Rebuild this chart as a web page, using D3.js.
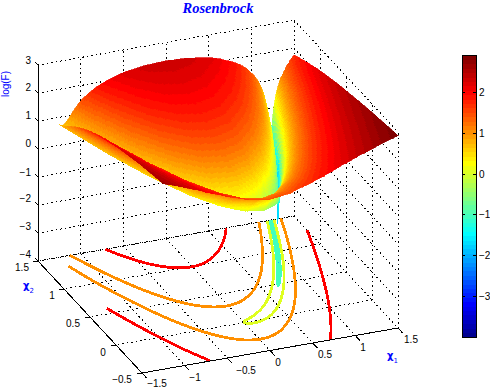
<!DOCTYPE html>
<html>
<head>
<meta charset="utf-8">
<style>
html,body{margin:0;padding:0;background:#fff;}
svg{display:block;}
text{font-family:"Liberation Sans",Arial,sans-serif;font-size:10px;fill:#000;}
</style>
<script src="https://cdnjs.cloudflare.com/ajax/libs/d3/7.8.5/d3.min.js"></script>
</head>
<body>
<svg id="c" width="490" height="389"></svg>
<script>
// ---- data: log(F) read on a table of x1 columns and distance-from-valley rows
const x1Cols = [-1.25,-1,-.75,-.5,-.25,0,.25,.5,.625,.75,.875,.95,1,1.05,1.125,1.25,1.5];
const valleyX2 = [1.5625,1,.5625,.25,.0625,0,.0625,.25,.390625,.5625,.765625,.9025,1,1.1025,1.265625,1.5625,2.25];
const distRows = [0,.01,.02,.04,.07,.1,.15,.2,.3,.4,.6,.8,1.2,1.6,2.2,2.8];
const colA = [.704,.705,.708,.718,.745,.783,.864,.957,1.148,1.323,1.613,1.839,2.173,2.417,2.689,2.897];
const colB = [.602,.603,.606,.619,.652,.699,.796,.903,1.114,1.301,1.602,1.833,2.170,2.415,2.688,2.897];
const colC = [.486,.487,.492,.508,.551,.609,.725,.849,1.081,1.280,1.592,1.826,2.167,2.413,2.688,2.896];
const colD = [.352,.354,.360,.382,.438,.512,.653,.796,1.051,1.261,1.583,1.821,2.165,2.412,2.687,2.896];
const colE = [.194,.197,.205,.236,.312,.409,.581,.745,1.024,1.245,1.575,1.817,2.163,2.411,2.686,2.895];
const colF = [0,.004,.017,.064,.173,.301,.512,.699,1,1.230,1.568,1.813,2.161,2.410,2.686,2.895];
const colG = [-.250,-.242,-.220,-.141,.022,.194,.449,.659,.981,1.219,1.563,1.810,2.160,2.409,2.685,2.895];
const colH = [-.602,-.585,-.538,-.387,-.131,.097,.398,.628,.966,1.211,1.559,1.808,2.159,2.409,2.685,2.894];
const colI = [-.852,-.822,-.743,-.522,-.200,.057,.378,.617,.961,1.208,1.558,1.807,2.159,2.408,2.685,2.894];
const colJ = [-1.204,-1.140,-.989,-.653,-.258,.026,.364,.609,.957,1.206,1.557,1.807,2.159,2.408,2.685,2.894];
const colK = [-1.806,-1.592,-1.255,-.755,-.296,.007,.355,.604,.955,1.205,1.557,1.806,2.158,2.408,2.685,2.894];
const colL = [-2.602,-1.903,-1.372,-.789,-.308,.001,.353,.602,.954,1.204,1.556,1.806,2.158,2.408,2.685,2.894];
const colM = [-4,-2,-1.398,-.796,-.310,0,.352,.602,.954,1.204,1.556,1.806,2.158,2.408,2.685,2.894];
const logF = [colA,colB,colC,colD,colE,colF,colG,colH,colI,colJ,colK,colL,colM,colL,colK,colJ,colH];

// contour lines on the floor, [x1,x2] pairs by level
const red1 = [[-.71,1.5],[-.6,1.347],[-.4,1.15],[-.2,1.033],[0,.995],[.2,1.037],[.4,1.158],[.6,1.359],[.705,1.5]];
const red2 = [[-1.25,.588],[-1.15,.346],[-1.05,.124],[-.95,-.078],[-.85,-.26],[-.75,-.42],[-.7,-.495]];
const red3 = [[.707,-.5],[.8,-.36],[.9,-.19],[1,0],[1.1,.21],[1.2,.44],[1.3,.69],[1.4,.96],[1.5,1.25]];
const orange1 = [[-1.125,1.5],[-1,1.245],[-.9,1.063],[-.75,.826],[-.6,.633],[-.4,.444],[-.2,.333],[0,.3],[.2,.346],[.4,.47],[.6,.674],[.8,.956],[1,1.316],[1.088,1.5]];
const orange2 = [[-1.24,1.34],[-1.15,1.09],[-1,.755],[-.85,.466],[-.7,.223],[-.5,-.028],[-.3,-.198],[-.1,-.286],[.1,-.293],[.3,-.219],[.5,-.062],[.7,.175],[.9,.494],[1.1,.894],[1.25,1.247],[1.345,1.5]];
const lime1 = [[1.185,1.5],[1.05,1.2025],[.9,.91],[.7,.585],[.5,.337],[.35,.198],[.2,.1],[.1,.054],[.02,.02],[0,0],[.02,-.0195],[.1,-.034],[.2,-.02],[.35,.046],[.5,.163],[.7,.395],[.9,.71],[1.05,1.0025],[1.2,1.342],[1.264,1.5]];
const aqua1 = [[1.215,1.5],[1.1,1.24],[1,1.0316],[.85,.75],[.75,.582],[.7,.5],[.684,.468],[.7,.48],[.75,.543],[.85,.695],[1,.968],[1.1,1.18],[1.233,1.5]];
const sky1 = [[.9,.81],[.95,.911],[1,1.01],[1.05,1.111],[1.1,1.21],[1.05,1.094],[1,.99],[.95,.894],[.9,.81]];
const blue1 = [[.968,.937],[1,1.003],[1.032,1.065],[1,.997],[.968,.937]];
const contourLevels = [-3,-2,-1,0,1,1,2,2,2];
const contourLines = [blue1,sky1,aqua1,lime1,orange1,orange2,red1,red2,red3];

// ticks and labels
const zTicks = [-4,-3,-2,-1,0,1,2,3];
const x1Ticks = [-1.5,-1,-.5,0,.5,1,1.5];
const x2Ticks = [-.5,0,.5,1,1.5];
const cbTicks = [-3,-2,-1,0,1,2];
const x1Labels = [[157,383.5],[195,377],[246,370],[278,362],[325,354],[363,347],[411,339]];
const x2Labels = [[22,267],[52,295],[73,323],[103,352],[122,379]];
const zLabelY = [254,226,198,172,143,115,87,60];
const titleText = "Rosenbrock";
const zName = "log(F)";

// ---- projection through scales
const ox = 142, oy = 373;
const x1px = d3.scaleLinear([-1.5,1.5],[0,256]);
const x1py = d3.scaleLinear([-1.5,1.5],[0,-45]);
const x2px = d3.scaleLinear([-.5,1.5],[0,-104]);
const x2py = d3.scaleLinear([-.5,1.5],[0,-112]);
const zpy  = d3.scaleLinear([-4,3],[0,-196]);
const P = (a,b,z) => [ox+x1px(a)+x2px(b), oy+x1py(a)+x2py(b)+zpy(z)];

// jet colour map, 64 bands, over the colour limits
const zMin=-4, zMax=2.9;
const jet = d3.scaleLinear([0,.125,.375,.625,.875,1],["rgb(0,0,128)","rgb(0,0,255)","rgb(0,255,255)","rgb(255,255,0)","rgb(255,0,0)","rgb(128,0,0)"]).clamp(true);
const bands = d3.range(64).map(i=>d3.color(jet((i+1)/64)).formatHex());
const color = d3.scaleQuantize([zMin,zMax],bands);

const svg = d3.select("#c");
const line3 = (pts,z) => "M"+pts.map(p=>P(p[0],p[1],z).join(",")).join("L");

// ---- walls and floor grid
const grid = svg.append("g").attr("fill","none").attr("stroke","#000").attr("stroke-dasharray","1.5 3").attr("shape-rendering","crispEdges");
const seg=[];
zTicks.forEach(z=>{ seg.push([[-1.5,1.5,z],[1.5,1.5,z]]); seg.push([[1.5,1.5,z],[1.5,-.5,z]]); });
x1Ticks.forEach(a=>{ seg.push([[a,1.5,-4],[a,1.5,3]]); seg.push([[a,1.5,-4],[a,-.5,-4]]); });
x2Ticks.forEach(b=>{ seg.push([[1.5,b,-4],[1.5,b,3]]); seg.push([[1.5,b,-4],[-1.5,b,-4]]); });
grid.selectAll("path").data(seg).join("path").attr("d",s=>"M"+P(...s[0]).join(",")+"L"+P(...s[1]).join(","));

// ---- contours on the floor
const lineGen = d3.line(p=>P(p[0],p[1],-4)[0],p=>P(p[0],p[1],-4)[1]).curve(d3.curveCatmullRom.alpha(.5));
svg.append("g").attr("fill","none").attr("stroke-width",2.8).attr("stroke-linejoin","round").attr("shape-rendering","crispEdges")
  .selectAll("path").data(contourLines).join("path")
  .attr("d",d=>lineGen(d)).attr("stroke",(d,i)=>color(contourLevels[i]));

// ---- surface, painted from the far corner toward the viewer
function lookup(a,b){
  let i=Math.min(Math.max(d3.bisectRight(x1Cols,a)-1,0),x1Cols.length-2);
  const t=(a-x1Cols[i])/(x1Cols[i+1]-x1Cols[i]);
  const v=valleyX2[i]*(1-t)+valleyX2[i+1]*t;
  const d=Math.abs(b-v);
  let j=Math.min(Math.max(d3.bisectRight(distRows,d)-1,0),distRows.length-2);
  const u=(d-distRows[j])/(distRows[j+1]-distRows[j]);
  const A=logF[i],B=logF[i+1];
  return (A[j]*(1-u)+A[j+1]*u)*(1-t)+(B[j]*(1-u)+B[j+1]*u)*t;
}
const mesh1=d3.range(171).map(k=>1.5-k*2.75/170);
const mesh2=d3.range(131).map(k=>1.5-k*2/130);
const cells=[];
for(let i=0;i<mesh1.length-1;i++){
  for(let j=0;j<mesh2.length-1;j++){
    const a0=mesh1[i],a1=mesh1[i+1],b0=mesh2[j],b1=mesh2[j+1];
    const z00=lookup(a0,b0),z01=lookup(a0,b1),z10=lookup(a1,b0),z11=lookup(a1,b1);
    const c=color((z00+z01+z10+z11)/4);
    const f=p=>p[0].toFixed(1)+","+p[1].toFixed(1);
    cells.push({c,d:"M"+f(P(a0,b0,z00))+"L"+f(P(a0,b1,z01))+"L"+f(P(a1,b1,z11))+"L"+f(P(a1,b0,z10))+"Z"});
  }
}
svg.append("g").attr("shape-rendering","crispEdges").attr("stroke-width",.7)
  .selectAll("path").data(cells).join("path")
  .attr("d",d=>d.d).attr("fill",d=>d.c).attr("stroke",d=>d.c);

// ---- axes
const axes=svg.append("g").attr("stroke","#000").attr("fill","none").attr("shape-rendering","crispEdges");
axes.append("path").attr("d",line3([[-1.5,-.5],[1.5,-.5]],-4));
axes.append("path").attr("d",line3([[-1.5,-.5],[-1.5,1.5]],-4));
axes.append("path").attr("d","M"+P(-1.5,1.5,-4).join(",")+"L"+P(-1.5,1.5,3).join(","));
x1Ticks.forEach(a=>axes.append("path").attr("d",line3([[a,-.5],[a,-.59]],-4)));
x2Ticks.forEach(b=>axes.append("path").attr("d",line3([[-1.5,b],[-1.56,b]],-4)));
zTicks.forEach(z=>axes.append("path").attr("d","M"+P(-1.5,1.5,z).join(",")+"L"+P(-1.5,1.56,z).join(",")));

const fmt=v=>String(v).replace("-","\u2212");
const lab=svg.append("g");
zTicks.forEach((z,i)=>lab.append("text").attr("x",31).attr("y",zLabelY[i]).attr("dy","0.35em").attr("text-anchor","end").text(fmt(z)));
x1Ticks.forEach((a,i)=>lab.append("text").attr("x",x1Labels[i][0]).attr("y",x1Labels[i][1]).attr("dy","0.35em").attr("text-anchor","middle").text(fmt(a)));
x2Ticks.forEach((b,i)=>lab.append("text").attr("x",x2Labels[4-i][0]).attr("y",x2Labels[4-i][1]).attr("dy","0.35em").attr("text-anchor","middle").text(fmt(b)));

// axis titles
svg.append("text").attr("x",218).attr("y",13).attr("text-anchor","middle")
  .style("font-family","'Liberation Serif',serif").style("font-size","14.5px").style("font-weight","bold").style("font-style","italic").style("fill","#00f").text(titleText);
svg.append("text").attr("transform","translate(9,84) rotate(-90)").attr("text-anchor","middle").style("fill","#00f").text(zName);
const subLabel=(x,y,sub)=>{
  const t=svg.append("text").attr("x",x).attr("y",y).style("fill","#00f").style("font-family","'DejaVu Sans',sans-serif").style("font-size","10px").style("font-weight","bold").text("\u03C7");
  t.append("tspan").attr("dy",4).style("font-size","7px").style("font-weight","normal").text(sub);
};
subLabel(23,289,"2");
subLabel(387,359,"1");

// ---- colour bar
const cbX=462, cbW=14, cbY=d3.scaleLinear([zMin,zMax],[337,55]);
const cb=svg.append("g");
const edges=color.thresholds();
const lows=[zMin,...edges];
const highs=[...edges,zMax];
cb.append("g").attr("shape-rendering","crispEdges").selectAll("rect").data(bands).join("rect")
  .attr("x",cbX).attr("width",cbW).attr("y",(d,i)=>cbY(highs[i])).attr("height",(d,i)=>cbY(lows[i])-cbY(highs[i])+.5).attr("fill",d=>d);
cb.append("rect").attr("x",cbX).attr("y",55).attr("width",cbW).attr("height",282).attr("fill","none").attr("stroke","#000").attr("shape-rendering","crispEdges");
cbTicks.forEach(t=>{
  const y=Math.round(cbY(t));
  cb.append("path").attr("d",`M${cbX},${y}h3M${cbX+cbW},${y}h-3`).attr("stroke","#000").attr("shape-rendering","crispEdges");
  cb.append("text").attr("x",479).attr("y",y).attr("dy","0.35em").text(fmt(t));
});
</script>
</body>
</html>
